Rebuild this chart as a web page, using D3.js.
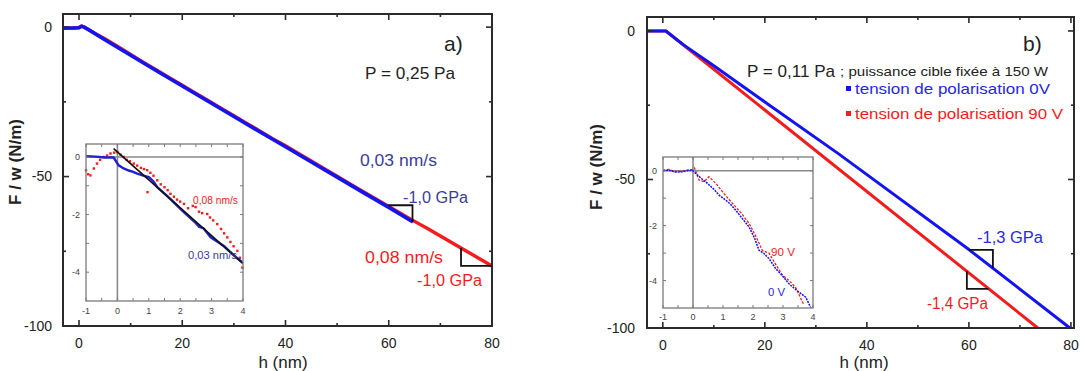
<!DOCTYPE html>
<html><head><meta charset="utf-8">
<script src="https://cdn.jsdelivr.net/npm/d3@7"></script>
<style>body{margin:0;background:#fff}svg{display:block}text{font-family:"Liberation Sans",Arial,sans-serif}</style>
</head><body><svg id="c" width="1085" height="371"></svg>
<script>
// ---------- data ----------
const mainXTicks = [0, 20, 40, 60, 80];
const mainXMinor = [10, 30, 50, 70];
const mainYTicks = [0, -50, -100];
const mainYMinor = [-25, -75];
const insetXTicks = [-1, 0, 1, 2, 3, 4];
const insetXMinor = [-0.5, 0.5, 1.5, 2.5, 3.5];
const insetYTicks = [0, -2, -4];
const insetYMinor = [-1, -3];

// panel a, main curves
const aBlueH = [-3.1, -1, 0, 0.5, 1, 2, 5, 10, 15, 20, 25, 30, 35, 40, 45, 50, 55, 60, 64.7];
const aBlueF = [-0.3, -0.3, -0.2, 0.3, 0, -1, -4.2, -9.4, -14.6, -19.7, -24.8, -29.9, -35, -40, -45.1, -50.2, -55.3, -60.3, -65.2];
const aRedH = [-3.1, -1, 0, 0.5, 1, 3, 5, 7.5, 10, 12.5, 15, 17.5, 20, 22.5, 25, 27.5, 30, 32.5, 35, 37.5, 40, 42.5, 45, 47.5, 50, 52.5, 55, 57.5, 60, 62.5, 65, 67.5, 70, 72.5, 75, 77.5, 80];
const aRedF = [-0.4, -0.3, -0.1, 0.4, 0, -2, -3.9, -6.5, -9.1, -11.8, -14.3, -16.9, -19.4, -22.0, -24.5, -27.1, -29.6, -32.2, -34.7, -37.3, -39.7, -42.3, -44.8, -47.4, -49.9, -52.5, -55.0, -57.5, -60.0, -62.5, -65.0, -67.4, -69.9, -72.4, -74.9, -77.4, -79.9];

// panel a, inset
const iaBlueH = [-1, -0.7, -0.4, -0.12, 0.04, 0.2, 0.36, 0.5, 0.63, 0.8, 1.0, 1.15, 1.27, 1.5, 1.7, 1.9, 2.1, 2.3, 2.5, 2.6, 2.75, 2.97, 3.2, 3.4, 3.6, 3.8, 3.98];
const iaBlueF = [0.03, 0.01, -0.02, -0.02, -0.29, -0.4, -0.47, -0.52, -0.58, -0.64, -0.7, -0.85, -1.05, -1.27, -1.47, -1.69, -1.9, -2.1, -2.3, -2.42, -2.48, -2.79, -2.95, -3.1, -3.3, -3.5, -3.66];
const iaRedH = [-1, -0.93, -0.86, -0.75, -0.65, -0.55, -0.44, -0.33, -0.22, -0.1, 0, 0.1, 0.2, 0.3, 0.4, 0.52, 0.63, 0.75, 0.85, 0.95, 0.96, 1.05, 1.15, 1.27, 1.38, 1.5, 1.6, 1.69, 1.8, 1.9, 2.0, 2.12, 2.25, 2.4, 2.49, 2.6, 2.7, 2.86, 2.95, 3.05, 3.18, 3.3, 3.4, 3.5, 3.6, 3.7, 3.82, 3.9, 3.98];
const iaRedF = [-0.46, -0.6, -0.64, -0.4, -0.23, -0.1, 0.0, 0.05, 0.12, 0.15, 0.17, 0.08, 0.0, -0.1, -0.15, -0.23, -0.3, -0.38, -0.42, -0.46, -1.22, -0.55, -0.65, -0.81, -0.95, -1.05, -1.15, -1.28, -1.38, -1.48, -1.55, -1.63, -1.78, -1.7, -1.74, -1.9, -1.95, -1.98, -2.1, -2.2, -2.33, -2.5, -2.65, -2.79, -2.95, -3.1, -3.26, -3.5, -3.84];
const iaFitH = [-0.12, 4];
const iaFitF = [0.29, -3.7];

// panel b, main curves
const bBlueH = [-3.1, 0.6, 4, 10, 20, 34.4, 60, 79.8];
const bBlueF = [0, 0, -4.6, -11.7, -23.9, -41.3, -73.6, -100];
const bRedH = [-3.1, 0.6, 73.5];
const bRedF = [0, 0, -100];

// panel b, inset
const ibBlueH = [-1, -0.8, -0.6, -0.36, -0.2, -0.02, 0.09, 0.3, 0.48, 0.7, 0.87, 1.09, 1.25, 1.42, 1.65, 1.87, 2.05, 2.2, 2.35, 2.53, 2.76, 3.0, 3.2, 3.45, 3.76, 3.92];
const ibBlueF = [0, 0.02, -0.05, -0.04, 0.0, 0.02, -0.1, -0.3, -0.46, -0.68, -0.89, -1.07, -1.22, -1.43, -1.75, -2.05, -2.45, -2.9, -3.0, -3.2, -3.57, -3.85, -4.12, -4.35, -4.61, -4.98];
const ibRedH = [-1, -0.8, -0.6, -0.36, -0.2, -0.02, 0.05, 0.2, 0.37, 0.53, 0.76, 0.98, 1.2, 1.42, 1.65, 1.87, 2.1, 2.31, 2.53, 2.75, 2.98, 3.2, 3.42, 3.7];
const ibRedF = [0.02, 0.05, -0.03, -0.02, 0.02, 0.05, 0.1, -0.34, -0.4, -0.22, -0.46, -0.76, -1.05, -1.31, -1.6, -1.92, -2.4, -2.9, -3.0, -3.4, -3.8, -4.0, -4.25, -4.9];

const BLUE = "#1414f0", RED = "#f41c1c", NAVY = "#3c3c9c";
const svg = d3.select("#c");
const zip = (a, b) => a.map((v, i) => [v, b[i]]);

function frameAxes(g, x, y, o) {
  const [x0, x1] = x.range(), [y0, y1] = y.range();
  const tick = (vals, len, horiz) => vals.forEach(v => {
    if (horiz) {
      g.append("line").attr("x1", x(v)).attr("x2", x(v)).attr("y1", y0).attr("y2", y0 - len).attr("stroke", o.col).attr("stroke-width", o.tw);
      g.append("line").attr("x1", x(v)).attr("x2", x(v)).attr("y1", y1).attr("y2", y1 + len).attr("stroke", o.col).attr("stroke-width", o.tw);
    } else {
      g.append("line").attr("y1", y(v)).attr("y2", y(v)).attr("x1", x0).attr("x2", x0 + len).attr("stroke", o.col).attr("stroke-width", o.tw);
      g.append("line").attr("y1", y(v)).attr("y2", y(v)).attr("x1", x1).attr("x2", x1 - len).attr("stroke", o.col).attr("stroke-width", o.tw);
    }
  });
  tick(o.xt, o.maj, true); tick(o.xm, o.min, true);
  tick(o.yt, o.maj, false); tick(o.ym, o.min, false);
  g.append("rect").attr("x", x0).attr("y", y1).attr("width", x1 - x0).attr("height", y0 - y1)
    .attr("fill", "none").attr("stroke", o.col).attr("stroke-width", o.fw);
  o.xt.forEach(v => g.append("text").attr("x", x(v)).attr("y", o.xly).attr("text-anchor", "middle")
    .attr("font-size", o.fs).attr("fill", o.tc).text(v));
  o.yt.forEach(v => g.append("text").attr("x", o.ylx).attr("y", y(v) + o.fs * 0.35).attr("text-anchor", "end")
    .attr("font-size", o.fs).attr("fill", o.tc).text(v));
}

function txt(x, y, s, size, col, len, extra) {
  const t = svg.append("text").attr("x", x).attr("y", y).attr("font-size", size).attr("fill", col).text(s);
  if (len) t.attr("textLength", len).attr("lengthAdjust", "spacingAndGlyphs");
  if (extra) extra(t);
  return t;
}

function mainPanel(p) {
  const x = d3.scaleLinear().domain(p.xd).range(p.xr);
  const y = d3.scaleLinear().domain(p.yd).range(p.yr);
  const g = svg.append("g");
  const line = d3.line().x(d => x(d[0])).y(d => y(d[1]));
  p.series.forEach(s => g.append("path").attr("d", line(s.pts)).attr("fill", "none")
    .attr("stroke", s.col).attr("stroke-width", s.w).attr("stroke-linejoin", "round"));
  frameAxes(g, x, y, { col: "#2b2b2b", tw: 1.6, fw: 2, maj: 6, min: 3, xt: mainXTicks, xm: mainXMinor,
    yt: mainYTicks, ym: mainYMinor, fs: 14, tc: "#222", xly: p.xly, ylx: p.ylx });
  p.tri.forEach(t => g.append("path").attr("d", d3.line()(t.map(d => [x(d[0]), y(d[1])])))
    .attr("fill", "none").attr("stroke", "#111").attr("stroke-width", 1.8));
  return { x, y };
}

function inset(p) {
  const x = d3.scaleLinear().domain([-1, 4]).range(p.xr);
  const y = d3.scaleLinear().domain(p.yd).range(p.yr);
  const g = svg.append("g");
  g.append("rect").attr("x", p.xr[0]).attr("y", p.yr[1]).attr("width", p.xr[1] - p.xr[0]).attr("height", p.yr[0] - p.yr[1]).attr("fill", "#fff");
  g.append("line").attr("x1", x(0)).attr("x2", x(0)).attr("y1", p.yr[0]).attr("y2", p.yr[1]).attr("stroke", "#8a8a8a").attr("stroke-width", 1.6);
  g.append("line").attr("x1", p.xr[0]).attr("x2", p.xr[1]).attr("y1", y(0)).attr("y2", y(0)).attr("stroke", "#8a8a8a").attr("stroke-width", 1.6);
  const line = d3.line().x(d => x(d[0])).y(d => y(d[1]));
  p.series.forEach(s => {
    if (s.dots) {
      g.selectAll(null).data(s.pts).enter().append("rect")
        .attr("x", d => x(d[0]) - 1.2).attr("y", d => y(d[1]) - 1.2).attr("width", 2.4).attr("height", 2.4).attr("fill", s.col);
    } else {
      g.append("path").attr("d", line(s.pts)).attr("fill", "none").attr("stroke", s.col).attr("stroke-width", s.w)
        .attr("stroke-dasharray", s.dash || null);
    }
  });
  frameAxes(g, x, y, { col: "#7a7a7a", tw: 1, fw: 1.3, maj: 3, min: 3, xt: insetXTicks, xm: insetXMinor,
    yt: insetYTicks, ym: insetYMinor, fs: 9, tc: "#444", xly: p.xly, ylx: p.ylx });
  return { x, y };
}

// ---------- panel a ----------
mainPanel({
  xd: [-3.1, 80], xr: [63, 492], yd: [-100, 4.4], yr: [326, 14], xly: 348, ylx: 52,
  series: [
    { pts: zip(aRedH, aRedF), col: RED, w: 3.4 },
    { pts: zip(aBlueH, aBlueF), col: BLUE, w: 3.6 }
  ],
  tri: [
    [[59.9, -59.6], [64.6, -59.6], [64.6, -65.1]],
    [[74.0, -73.9], [74.0, -79.9], [79.9, -79.9]]
  ]
});
inset({
  xr: [86, 243], yd: [-5, 0.45], yr: [301, 144], xly: 314, ylx: 80,
  series: [
    { pts: zip(iaRedH, iaRedF), col: RED, w: 0.8, dots: true },
    { pts: zip(iaBlueH, iaBlueF), col: "#2020d0", w: 2.4 },
    { pts: zip(iaFitH, iaFitF), col: "#111", w: 1.6 }
  ]
});
txt(444, 51, "a)", 21, "#222");
txt(365, 79, "P = 0,25 Pa", 17, "#222", 90);
txt(360, 166, "0,03 nm/s", 16, NAVY, 77);
txt(403, 203, "-1,0 GPa", 16, NAVY, 65);
txt(365, 263, "0,08 nm/s", 16, RED, 78);
txt(417, 286, "-1,0 GPa", 16, RED, 65);
txt(193, 204, "0,08 nm/s", 10, RED, 45);
txt(188, 259, "0,03 nm/s", 10, NAVY, 49);
txt(283, 368, "h (nm)", 17, "#222", null, t => t.attr("text-anchor", "middle"));
txt(0, 0, "F / w (N/m)", 17, "#222", null, t => t.attr("text-anchor", "middle").attr("font-weight", "bold")
  .attr("transform", "translate(21,162) rotate(-90)").attr("x", 0).attr("y", 0));

// ---------- panel b ----------
mainPanel({
  xd: [-3.1, 80.6], xr: [647, 1074], yd: [-100, 4.7], yr: [328, 17], xly: 350, ylx: 635,
  series: [
    { pts: zip(bRedH, bRedF), col: RED, w: 3 },
    { pts: zip(bBlueH, bBlueF), col: BLUE, w: 3 }
  ],
  tri: [
    [[60.0, -73.7], [64.7, -73.7], [64.7, -79.8]],
    [[59.6, -80.9], [59.6, -86.8], [63.8, -86.8]]
  ]
});
inset({
  xr: [663, 813], yd: [-5, 0.5], yr: [308, 157], xly: 320, ylx: 657,
  series: [
    { pts: zip(ibRedH, ibRedF), col: RED, w: 1.3, dash: "2.5,1.5" },
    { pts: zip(ibBlueH, ibBlueF), col: BLUE, w: 1.5, dash: "2,1" }
  ]
});
txt(1023, 51, "b)", 21, "#222");
txt(747, 77, "P = 0,11 Pa", 17, "#222", 88);
txt(840, 76, "; puissance cible fixée à 150 W", 13, "#222", 208);
svg.append("rect").attr("x", 846).attr("y", 86).attr("width", 5).attr("height", 5).attr("fill", BLUE);
svg.append("rect").attr("x", 846).attr("y", 111).attr("width", 5).attr("height", 5).attr("fill", RED);
txt(855, 94, "tension de polarisation 0V", 15, "#2626e6", 195);
txt(855, 119, "tension de polarisation 90 V", 15, RED, 208);
txt(977, 243, "-1,3 GPa", 16, "#2a2ae0", 66);
txt(927, 309, "-1,4 GPa", 16, RED, 61);
txt(771, 256, "90 V", 11, RED, 24);
txt(768, 296, "0 V", 11, "#2626e6", 17);
txt(864, 368, "h (nm)", 17, "#222", null, t => t.attr("text-anchor", "middle"));
txt(0, 0, "F / w (N/m)", 17, "#222", null, t => t.attr("text-anchor", "middle").attr("font-weight", "bold")
  .attr("transform", "translate(602,167) rotate(-90)").attr("x", 0).attr("y", 0));
</script></body></html>
